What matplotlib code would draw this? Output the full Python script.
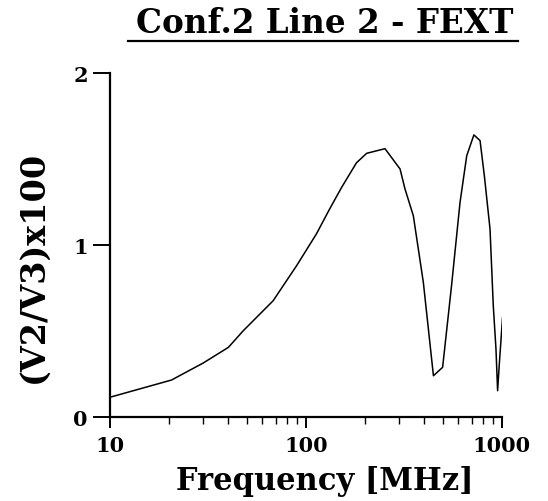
import matplotlib
matplotlib.use("Agg")
import matplotlib.pyplot as plt
from matplotlib.lines import Line2D
from matplotlib.ticker import NullFormatter, FixedLocator, FixedFormatter

# FEXT ratio (V2/V3)x100 versus frequency in MHz
freq_mhz = [10, 20.6, 29.9, 40.2, 47.9, 68, 89.6, 113, 132, 152, 181, 204, 253,
            302, 320, 353, 397, 447, 498, 553, 611, 661, 719, 773, 813, 869,
            903, 932, 950, 968, 1007]
fext = [0.115, 0.215, 0.314, 0.405, 0.502, 0.676, 0.880, 1.064, 1.209, 1.335,
        1.478, 1.533, 1.560, 1.442, 1.326, 1.170, 0.783, 0.240, 0.289, 0.764,
        1.248, 1.519, 1.640, 1.607, 1.403, 1.093, 0.647, 0.395, 0.153, 0.298,
        0.580]

x_ticks = [10, 100, 1000]
x_tick_labels = ["10", "100", "1000"]
x_minor_ticks = [m * d for d in (10, 100) for m in range(2, 10)]
y_ticks = [0, 1, 2]
y_tick_labels = ["0", "1", "2"]

plt.rcParams["font.family"] = ["DejaVu Serif"]
plt.rcParams["font.weight"] = "bold"

fig = plt.figure(figsize=(5.48, 5.02), dpi=100)
ax = fig.add_axes([0.2007, 0.1673, 0.7153, 0.6853])

ax.plot(freq_mhz, fext, color="black", lw=1.1)

ax.set_xscale("log")
ax.set_xlim(10, 1000)
ax.set_ylim(0, 2)

for s in ("top", "right"):
    ax.spines[s].set_visible(False)
for s in ("left", "bottom"):
    ax.spines[s].set_linewidth(1.6)

ax.xaxis.set_major_locator(FixedLocator(x_ticks))
ax.xaxis.set_major_formatter(FixedFormatter(x_tick_labels))
ax.xaxis.set_minor_locator(FixedLocator(x_minor_ticks))
ax.xaxis.set_minor_formatter(NullFormatter())
ax.yaxis.set_major_locator(FixedLocator(y_ticks))
ax.yaxis.set_major_formatter(FixedFormatter(y_tick_labels))

ax.tick_params(axis="x", which="major", direction="out", length=8, width=1.4,
               labelsize=15, pad=5)
ax.tick_params(axis="x", which="minor", direction="out", length=5, width=1.0)
ax.tick_params(axis="y", which="major", direction="out", length=12, width=1.4,
               labelsize=15, pad=4)
for lbl in ax.get_xticklabels() + ax.get_yticklabels():
    lbl.set_fontweight("bold")

ax.set_xlabel("Frequency [MHz]", fontsize=22, fontweight="bold")
ax.xaxis.set_label_coords(0.547, -0.14)
ax.set_ylabel("(V2/V3)x100", fontsize=24, fontweight="bold")
ax.yaxis.set_label_coords(-0.155, 0.44)

fig.text(0.593, 0.935, "Conf.2 Line 2 - FEXT", ha="center", va="baseline",
         fontsize=23.5, fontweight="bold")
fig.add_artist(Line2D([0.234, 0.946], [0.917, 0.917], color="black", lw=1.6,
                      transform=fig.transFigure))

fig.savefig("out.png", dpi=100)
